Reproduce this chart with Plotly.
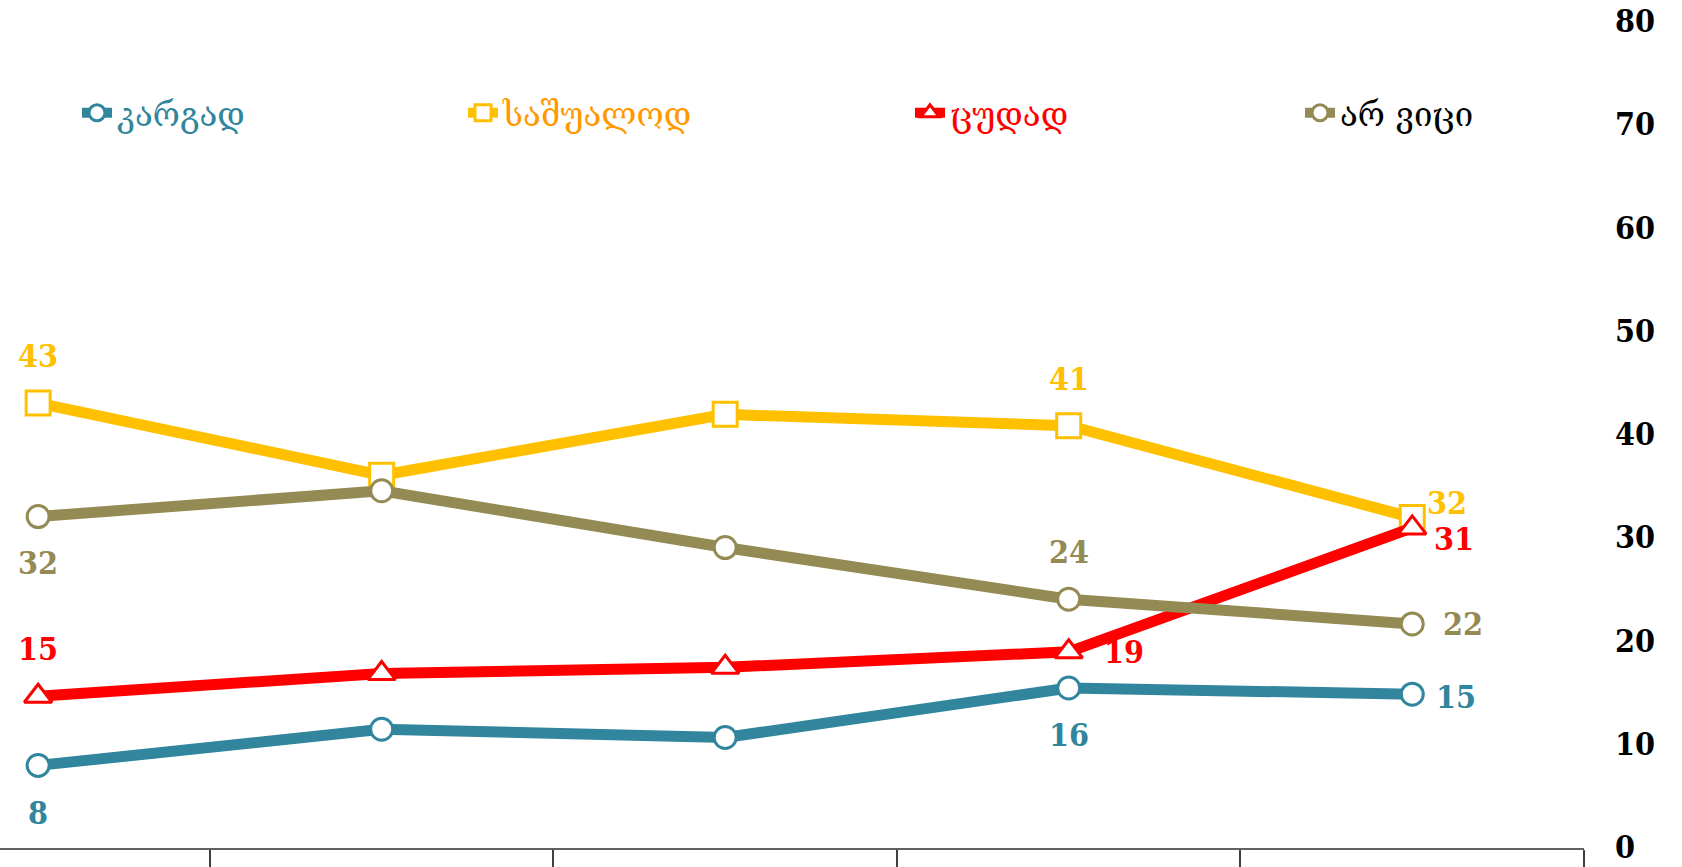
import plotly.graph_objects as go

# ---- data ----
categories = ["I", "II", "III", "IV", "V"]
series_names = ["კარგად", "საშუალოდ", "ცუდად", "არ ვიცი"]
kargad = [7.9, 11.4, 10.6, 15.4, 14.8]
sashualod = [43.0, 36.0, 41.9, 40.8, 31.9]
tsudad = [14.6, 16.8, 17.4, 18.9, 30.9]
ar_vitsi = [32.0, 34.5, 29.0, 24.0, 21.6]
kargad_labels = ["8", "", "", "16", "15"]
sashualod_labels = ["43", "", "", "41", "32"]
tsudad_labels = ["15", "", "", "19", "31"]
ar_vitsi_labels = ["32", "", "", "24", "22"]
y_ticks = [0, 10, 20, 30, 40, 50, 60, 70, 80]

# ---- style ----
line_colors = ["#31859C", "#FFC000", "#FF0000", "#948A54"]
legend_text_colors = ["#31859C", "#FF9900", "#FF0000", "#000000"]
symbols = ["circle", "square", "triangle-up", "circle"]
marker_sizes = [22, 24, 24, 22]
legend_x_px = [77, 463, 910, 1300]
# label offsets (xshift, yshift) in px, per point
label_offsets = [
    [(0, -48), None, None, (0, -47), (44, -3)],
    [(0, 47), None, None, (0, 47), (35, 15)],
    [(0, 47), None, None, (55, 0), (42, -11)],
    [(0, -46), None, None, (0, 47), (51, 0)],
]
NUM_FONT = "DejaVu Serif Condensed, DejaVu Serif, serif"
GEO_FONT = "DejaVu Serif, DejaVu Sans, serif"

values = [kargad, sashualod, tsudad, ar_vitsi]
labels = [kargad_labels, sashualod_labels, tsudad_labels, ar_vitsi_labels]

PLOT_W = 1584.0
fig = go.Figure()
layout_legends = {}
annotations = []
for i, (name, vals) in enumerate(zip(series_names, values)):
    lname = "legend" if i == 0 else f"legend{i+1}"
    fig.add_trace(go.Scatter(
        x=categories, y=vals, name=name, mode="lines+markers",
        line=dict(color=line_colors[i], width=11),
        marker=dict(symbol=symbols[i], size=marker_sizes[i], color="white",
                    line=dict(color=line_colors[i], width=3)),
        legend=lname, hoverinfo="x+y",
    ))
    layout_legends[lname] = dict(
        x=legend_x_px[i] / PLOT_W, y=0.889, xanchor="left", yanchor="middle",
        orientation="h", bgcolor="rgba(0,0,0,0)",
        font=dict(family=GEO_FONT, size=33, color=legend_text_colors[i]),
    )
    for j, (v, t) in enumerate(zip(vals, labels[i])):
        if t:
            dx, dy = label_offsets[i][j]
            annotations.append(dict(
                x=categories[j], y=v, xref="x", yref="y", text=t,
                showarrow=False, xshift=dx, yshift=dy,
                font=dict(family=NUM_FONT, size=32, color=line_colors[i],
                          weight="bold"),
            ))

fig.update_layout(
    width=1682, height=867,
    margin=dict(l=0, r=98, t=21, b=19),
    paper_bgcolor="white", plot_bgcolor="white",
    showlegend=True,
    annotations=annotations,
    xaxis=dict(
        type="category", range=[-0.111, 4.5], showgrid=False,
        showticklabels=False, tickson="boundaries", ticks="outside",
        ticklen=20, tickwidth=1.5, tickcolor="#404040",
        showline=True, linecolor="#606060", linewidth=2, zeroline=False,
    ),
    yaxis=dict(
        range=[-0.1, 80], side="right", tickvals=y_ticks, showgrid=False,
        zeroline=False, showline=False, ticks="",
        ticklabelstandoff=30,
        tickfont=dict(family=NUM_FONT, size=32, color="black", weight="bold"),
    ),
    **layout_legends,
)
fig.write_html("out.html", config={"displayModeBar": False},
               post_script="document.body.style.margin='0px';")
